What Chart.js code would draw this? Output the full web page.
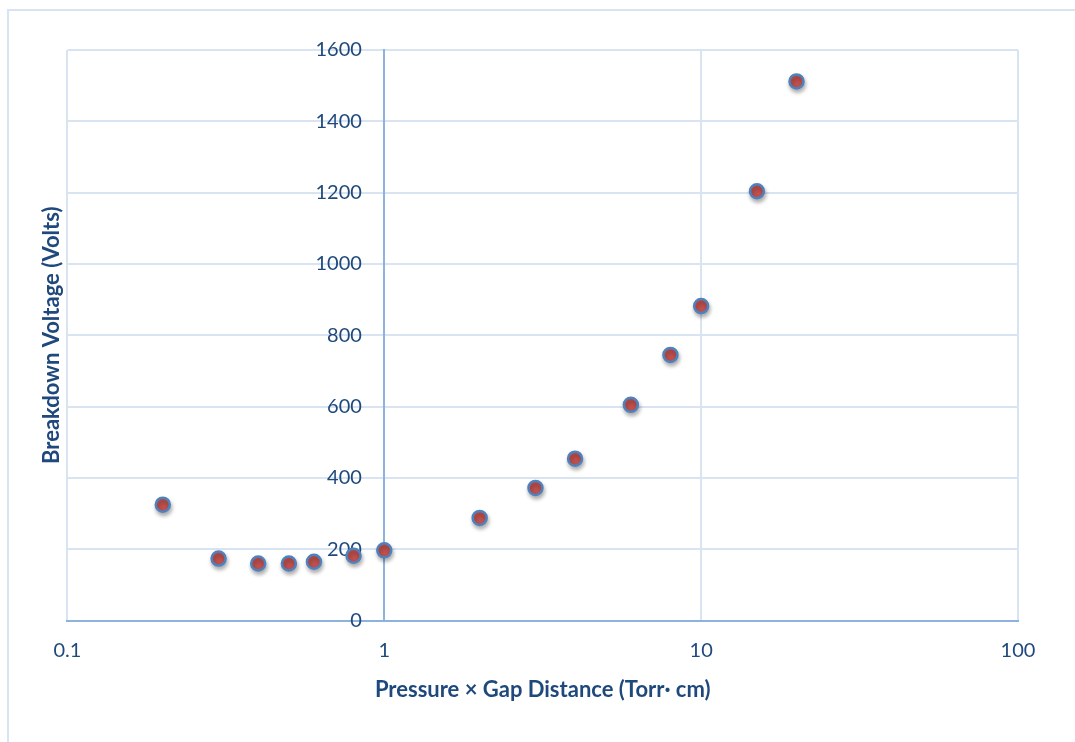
<!DOCTYPE html>
<html>
<head>
<meta charset="utf-8">
<script src="https://cdn.jsdelivr.net/npm/chart.js@4.4.1/dist/chart.umd.min.js"></script>
<style>
  body { margin: 0; background: #fff; }
  #wrap { width: 1075px; height: 742px; position: relative; }
</style>
</head>
<body>
<div id="wrap"><canvas id="paschenChart"></canvas></div>
<script>
// pressure x gap (Torr cm) and breakdown voltage (V)
var pd_values = [0.2, 0.3, 0.4, 0.5, 0.6, 0.8, 1, 2, 3, 4, 6, 8, 10, 15, 20];
var breakdown_volts = [325, 174, 160, 160, 165, 182, 197, 288, 372, 454, 605, 745, 882, 1204, 1512];
var x_ticks = [0.1, 1, 10, 100];
var y_min = 0, y_max = 1600, y_step = 200;

var textColor = '#1F497D';
var gridColor = '#D9E4F2';
var axisColor = '#8EB2DE';

function build_points(){
    var pts = [];
    for (var i = 0; i < pd_values.length; i++) {
        pts.push({x: pd_values[i], y: breakdown_volts[i]});
    }
    return pts;
}

// thin frame around the whole figure, like the Office chart area
var framePlugin = {
    id: 'frame',
    beforeDraw: function(chart){
        var ctx = chart.ctx;
        ctx.save();
        ctx.strokeStyle = gridColor;
        ctx.lineWidth = 2;
        ctx.beginPath();
        ctx.moveTo(8, chart.height);
        ctx.lineTo(8, 10);
        ctx.lineTo(chart.width, 10);
        ctx.stroke();
        ctx.restore();
    }
};

// soft shadow under the markers
var shadowPlugin = {
    id: 'markerShadow',
    beforeDatasetsDraw: function(chart){
        var ctx = chart.ctx;
        ctx.save();
        ctx.shadowColor = 'rgba(0,0,0,0.3)';
        ctx.shadowBlur = 4;
        ctx.shadowOffsetX = 1;
        ctx.shadowOffsetY = 3;
    },
    afterDatasetsDraw: function(chart){
        chart.ctx.restore();
    }
};

function pageLoad(){
    var ctx = document.getElementById("paschenChart");
    var chart = new Chart(ctx, {
        type: 'scatter',
        data: {
            datasets: [{
                label: 'Breakdown Voltage',
                data: build_points(),
                backgroundColor: '#C0504D',
                borderColor: '#4F81BD',
                borderWidth: 2.5,
                pointRadius: 7,
                pointHoverRadius: 7
            }]
        },
        options: {
            responsive: true,
            maintainAspectRatio: false,
            animation: false,
            layout: {
                padding: {top: 50, right: 57, left: 35, bottom: 39}
            },
            plugins: {
                legend: {display: false},
                tooltip: {enabled: false}
            },
            scales: {
                x: {
                    type: 'logarithmic',
                    position: 'bottom',
                    min: 0.1,
                    max: 100,
                    afterBuildTicks: function(scale){
                        scale.ticks = x_ticks.map(function(v){ return {value: v, major: true}; });
                    },
                    ticks: {
                        color: textColor,
                        font: {family: 'Lato', size: 20},
                        padding: 18,
                        maxRotation: 0,
                        autoSkip: false,
                        callback: function(value){ return String(value); }
                    },
                    grid: {color: gridColor, lineWidth: 2, drawTicks: false},
                    border: {color: axisColor, width: 2},
                    title: {
                        display: true,
                        text: 'Pressure × Gap Distance (Torr· cm)',
                        color: textColor,
                        font: {family: 'Lato', size: 22, weight: 'bold'},
                        padding: {top: -4, bottom: 0}
                    }
                },
                // value axis line crosses at x = 1
                y: {
                    type: 'linear',
                    position: {x: 1},
                    min: y_min,
                    max: y_max,
                    ticks: {stepSize: y_step, display: false},
                    grid: {color: gridColor, lineWidth: 2, drawTicks: false},
                    border: {color: axisColor, width: 2}
                },
                // labels for the value axis, set a little left of the axis line
                ylabels: {
                    type: 'linear',
                    position: {x: 0.85},
                    min: y_min,
                    max: y_max,
                    ticks: {
                        stepSize: y_step,
                        color: textColor,
                        font: {family: 'Lato', size: 20},
                        callback: function(value){ return String(value); }
                    },
                    grid: {display: false, drawTicks: false},
                    border: {display: false}
                },
                ytitle: {
                    type: 'linear',
                    position: 'left',
                    min: y_min,
                    max: y_max,
                    ticks: {display: false},
                    grid: {display: false, drawTicks: false},
                    border: {display: false},
                    title: {
                        display: true,
                        text: 'Breakdown Voltage (Volts)',
                        color: textColor,
                        font: {family: 'Lato', size: 22, weight: 'bold'},
                        padding: {top: 4, bottom: 2}
                    }
                }
            }
        },
        plugins: [framePlugin, shadowPlugin]
    });
}

window.onload = pageLoad;
</script>
</body>
</html>
